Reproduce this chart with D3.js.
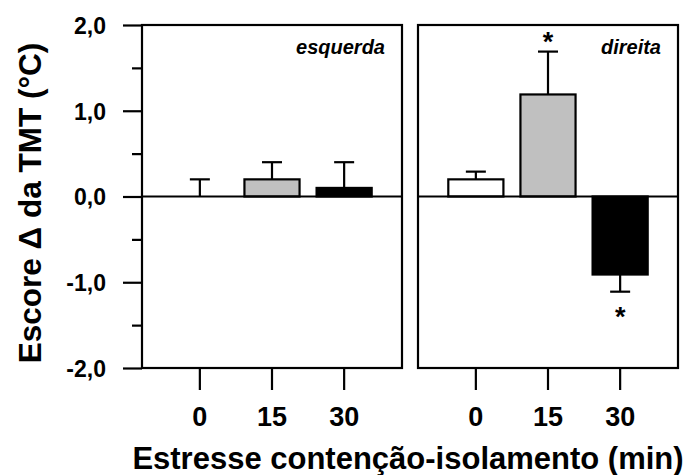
<!DOCTYPE html>
<html>
<head>
<meta charset="utf-8">
<script src="https://cdn.jsdelivr.net/npm/d3@7/dist/d3.min.js"></script>
<style>
  html, body { margin: 0; padding: 0; background: #fff; }
  svg { display: block; font-family: "Liberation Sans", Arial, sans-serif; }
</style>
</head>
<body>
<svg id="chart" width="686" height="475"></svg>
<script>
// Time of stress exposure (min)
const categories = ["0", "15", "30"];
// Mean change in TMT score (°C) and SEM, left and right side
const leftMeans = [0.0, 0.2, 0.1];
const leftErrors = [0.2, 0.2, 0.3];
const rightMeans = [0.2, 1.19, -0.91];
const rightErrors = [0.09, 0.5, 0.2];
const rightSignificant = [false, true, true];
const leftSignificant = [false, false, false];
const barFills = ["#ffffff", "#c0c0c0", "#000000"];
// Axis ticks
const yMajorTicks = [-2, -1, 0, 1, 2];
const yMinorTicks = [-1.5, -0.5, 0.5, 1.5];
const yTickLabels = ["-2,0", "-1,0", "0,0", "1,0", "2,0"];
const panelTitles = ["esquerda", "direita"];

const svg = d3.select("#chart");
const plotTop = 25, plotBottom = 368;
const panelW = 260;
const panelX = [142, 418];

const y = d3.scaleLinear().domain([-2, 2]).range([plotBottom, plotTop]);

const panels = [
  { title: panelTitles[0], means: leftMeans, errors: leftErrors, sig: leftSignificant },
  { title: panelTitles[1], means: rightMeans, errors: rightErrors, sig: rightSignificant }
];

panels.forEach((p, pi) => {
  const g = svg.append("g").attr("transform", `translate(${panelX[pi]},0)`);
  const x = d3.scaleBand().domain(categories).range([0, panelW])
    .paddingInner(0.236).paddingOuter(0.42);

  const rows = categories.map((c, i) => ({ c, m: p.means[i], e: p.errors[i], s: p.sig[i], f: barFills[i] }));

  // error bars (one-sided, away from zero)
  rows.forEach(d => {
    const cx = x(d.c) + x.bandwidth() / 2;
    const end = d.m >= 0 ? d.m + d.e : d.m - d.e;
    g.append("line").attr("x1", cx).attr("x2", cx)
      .attr("y1", y(d.m)).attr("y2", y(end))
      .attr("stroke", "#000").attr("stroke-width", 2.2);
    g.append("line").attr("x1", cx - 10).attr("x2", cx + 10)
      .attr("y1", y(end)).attr("y2", y(end))
      .attr("stroke", "#000").attr("stroke-width", 2.2);
    if (d.s) {
      const base = d.m >= 0 ? y(end) - 1 : y(end) + 34;
      g.append("text").attr("x", cx).attr("y", base)
        .attr("text-anchor", "middle").attr("font-size", 27).attr("font-weight", "bold")
        .text("*");
    }
  });

  // bars
  g.selectAll("rect.bar").data(rows.filter(d => d.m !== 0)).enter().append("rect")
    .attr("class", "bar")
    .attr("x", d => x(d.c))
    .attr("width", x.bandwidth())
    .attr("y", d => y(Math.max(0, d.m)))
    .attr("height", d => Math.abs(y(d.m) - y(0)))
    .attr("fill", d => d.f)
    .attr("stroke", "#000").attr("stroke-width", 2.2);

  // zero line
  g.append("line").attr("x1", 0).attr("x2", panelW)
    .attr("y1", y(0)).attr("y2", y(0))
    .attr("stroke", "#000").attr("stroke-width", 2.2);

  // frame
  g.append("rect").attr("x", 0).attr("y", plotTop).attr("width", panelW).attr("height", plotBottom - plotTop)
    .attr("fill", "none").attr("stroke", "#000").attr("stroke-width", 2.2);

  // x axis
  const xAxis = g.append("g").attr("transform", `translate(0,${plotBottom})`)
    .call(d3.axisBottom(x).tickSize(22).tickSizeOuter(0));
  xAxis.select(".domain").remove();
  xAxis.selectAll(".tick line").attr("stroke", "#000").attr("stroke-width", 2.2);
  xAxis.selectAll(".tick text")
    .attr("y", 58).attr("dy", null)
    .attr("font-size", 27).attr("font-weight", "bold")
    .attr("font-family", "Liberation Sans, Arial, sans-serif").attr("fill", "#000");

  // panel label
  g.append("text").attr("x", panelW - 17).attr("y", 54)
    .attr("text-anchor", "end").attr("font-size", 20)
    .attr("font-weight", "bold").attr("font-style", "italic")
    .text(p.title);

  if (pi === 0) {
    const yAxis = g.append("g")
      .call(d3.axisLeft(y).tickValues(yMajorTicks).tickSize(19).tickPadding(17)
        .tickFormat((d, i) => yTickLabels[i]));
    yAxis.select(".domain").remove();
    yAxis.selectAll(".tick line").attr("stroke", "#000").attr("stroke-width", 2.2);
    yAxis.selectAll(".tick text")
      .attr("dy", "0.36em")
      .attr("font-size", 23).attr("font-weight", "bold")
      .attr("font-family", "Liberation Sans, Arial, sans-serif").attr("fill", "#000");

    const yMinor = g.append("g")
      .call(d3.axisLeft(y).tickValues(yMinorTicks).tickSize(10).tickFormat(""));
    yMinor.select(".domain").remove();
    yMinor.selectAll(".tick line").attr("stroke", "#000").attr("stroke-width", 2.2);
  }
});

// axis titles
svg.append("text")
  .attr("transform", "translate(41,203) rotate(-90)")
  .attr("text-anchor", "middle").attr("font-size", 31.5).attr("font-weight", "bold")
  .text("Escore Δ da TMT (°C)");

svg.append("text")
  .attr("x", 408).attr("y", 469)
  .attr("text-anchor", "middle").attr("font-size", 31).attr("font-weight", "bold")
  .text("Estresse contenção-isolamento (min)");
</script>
</body>
</html>
